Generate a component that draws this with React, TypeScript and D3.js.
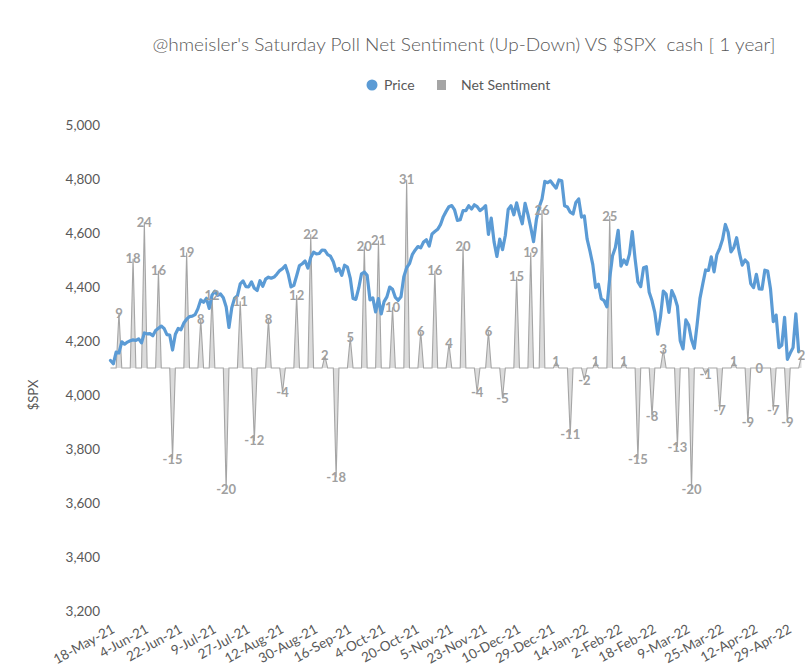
import { useEffect, useRef } from 'react'
import * as d3 from 'd3'

// ── Chart data ──────────────────────────────────────────────────────────────
const TITLE = "@hmeisler's Saturday Poll Net Sentiment (Up-Down) VS $SPX  cash [ 1 year]"

// trading calendar (NYSE sessions) covered by the chart
const FIRST_DAY = '2021-05-18'
const LAST_DAY = '2022-05-06'
const MARKET_HOLIDAYS = [
  '2021-05-31', '2021-07-05', '2021-09-06', '2021-11-25',
  '2021-12-24', '2022-01-17', '2022-02-21', '2022-04-15',
]

// $SPX daily close, one value per session
const SPX_CLOSE = [
  // May-21
  4127.8, 4115.7, 4159.1, 4155.9, 4197.1, 4188.1, 4196.0, 4200.9, 4204.1,
  // Jun-21
  4202.0, 4208.1, 4192.9, 4229.9, 4226.5, 4227.3, 4219.6, 4239.2, 4247.4, 4255.2, 4246.6,
  4223.7, 4221.9, 4166.5, 4224.8, 4246.4, 4241.8, 4266.5, 4280.7, 4290.6, 4291.8, 4297.5,
  // Jul-21
  4319.9, 4352.3, 4343.5, 4358.1, 4320.8, 4369.6, 4384.6, 4369.2, 4374.3, 4360.0, 4327.2,
  4250.0, 4323.1, 4358.7, 4367.5, 4411.8, 4422.3, 4401.5, 4400.6, 4419.2, 4395.3,
  // Aug-21
  4387.2, 4423.2, 4402.7, 4429.1, 4436.5, 4432.4, 4436.8, 4447.7, 4460.8, 4468.0, 4479.7,
  4448.1, 4400.3, 4405.8, 4441.7, 4479.5, 4486.2, 4496.2, 4470.0, 4509.4, 4528.8, 4522.7,
  // Sep-21
  4524.1, 4537.0, 4535.4, 4520.0, 4514.1, 4493.3, 4458.6, 4468.7, 4443.1, 4480.7, 4473.8,
  4433.0, 4357.7, 4354.2, 4395.6, 4449.0, 4455.5, 4443.1, 4352.6, 4359.5, 4307.5,
  // Oct-21
  4357.0, 4300.5, 4345.7, 4363.6, 4399.8, 4391.3, 4361.2, 4350.7, 4363.8, 4438.3, 4471.4,
  4486.5, 4519.6, 4536.2, 4549.8, 4544.9, 4566.5, 4574.8, 4551.7, 4596.4, 4605.4,
  // Nov-21
  4613.7, 4630.7, 4660.6, 4680.1, 4697.5, 4701.7, 4685.3, 4646.7, 4649.3, 4682.9, 4682.8,
  4700.9, 4688.7, 4704.5, 4698.0, 4682.9, 4690.7, 4701.5, 4594.6, 4655.3, 4567.0,
  // Dec-21
  4513.0, 4577.1, 4538.4, 4591.7, 4686.8, 4701.2, 4667.5, 4712.0, 4669.0, 4634.1, 4709.9,
  4668.7, 4620.6, 4568.0, 4649.2, 4696.6, 4725.8, 4791.2, 4786.4, 4793.1, 4778.7, 4766.2,
  // Jan-22
  4796.6, 4793.5, 4700.6, 4696.1, 4677.0, 4670.3, 4713.1, 4726.4, 4659.0, 4662.9,
  4577.1, 4532.8, 4482.7, 4397.9, 4410.1, 4356.5, 4349.9, 4326.5, 4431.9, 4515.6,
  // Feb-22
  4546.5, 4610.0, 4477.4, 4500.5, 4483.9, 4521.5, 4605.0, 4504.1, 4418.6, 4401.7,
  4471.1, 4475.0, 4380.3, 4348.9, 4304.8, 4225.5, 4288.7, 4384.7, 4373.9,
  // Mar-22
  4306.3, 4386.5, 4363.5, 4328.9, 4201.1, 4170.7, 4277.9, 4259.5, 4204.3, 4173.1, 4262.5,
  4357.9, 4411.7, 4463.1, 4461.2, 4511.6, 4456.2, 4520.2, 4543.1, 4575.5, 4631.6, 4602.5, 4530.4,
  // Apr-22
  4545.9, 4582.6, 4525.1, 4481.2, 4500.2, 4488.3, 4412.5, 4397.5, 4446.6, 4392.6,
  4391.7, 4462.2, 4459.5, 4393.7, 4271.8, 4296.1, 4175.2, 4184.0, 4287.5, 4131.9,
  // May-22
  4155.4, 4175.5, 4300.2, 4160.0,
]

// Saturday poll, net % (up minus down), one value per week
const NET_SENTIMENT = [
  9, 18, 24, 16, -15, 19, 8, 12, -20, 11, -12, 8, -4, 12, 22, 2, -18,
  5, 20, 21, 10, 31, 6, 16, 4, 20, -4, 6, -5, 15, 19, 26, 1, -11,
  -2, 1, 25, 1, -15, -8, 3, -13, -20, -1, -7, 1, -9, 0, -7, -9, 2,
]

const PRICE_TICKS = [3200, 3400, 3600, 3800, 4000, 4200, 4400, 4600, 4800, 5000]
const LABEL_EVERY = 12

const WIDTH = 805
const HEIGHT = 672
const PLOT = { left: 110.5, right: 801.5, top: 125, bottom: 611 }

const PRICE_COLOR = '#5B9BD5'
const SENT_COLOR = '#A5A5A5'
const TEXT_COLOR = '#595959'
const FONT = 'Lato, "Open Sans", sans-serif'

const parseDay = d3.utcParse('%Y-%m-%d')
const isoDay = d3.utcFormat('%Y-%m-%d')
const tickDay = d3.utcFormat('%-d-%b-%y')

function tradingDays(): Date[] {
  const closed = new Set(MARKET_HOLIDAYS)
  const start = parseDay(FIRST_DAY) as Date
  const stop = d3.utcDay.offset(parseDay(LAST_DAY) as Date, 1)
  return d3.utcDay.range(start, stop)
    .filter((d) => d.getUTCDay() % 6 !== 0 && !closed.has(isoDay(d)))
}

export default function App() {
  const svgRef = useRef<SVGSVGElement | null>(null)

  useEffect(() => {
    if (!svgRef.current) return
    const days = tradingDays()

    // poll result sits on the last session of each week
    const weekEnds = days
      .map((d, i) => i)
      .filter((i) => i === days.length - 1 || days[i + 1].getUTCDay() < days[i].getUTCDay())
    const sentiment = days.map(() => 0)
    weekEnds.forEach((dayIdx, w) => { sentiment[dayIdx] = NET_SENTIMENT[w] ?? 0 })

    const x = d3.scaleLinear().domain([0, days.length - 1]).range([PLOT.left, PLOT.right])
    const yPrice = d3.scaleLinear().domain([3200, 5000]).range([PLOT.bottom, PLOT.top])
    const ySent = d3.scaleLinear().domain([-40, 40]).range([PLOT.bottom, PLOT.top])

    const svg = d3.select(svgRef.current)
    svg.selectAll('*').remove()
    svg.attr('width', WIDTH).attr('height', HEIGHT)
      .style('font-family', FONT)

    svg.append('rect').attr('width', WIDTH).attr('height', HEIGHT).attr('fill', '#fff')

    // ── Title & legend ────────────────────────────────────────────────────────
    svg.append('text')
      .attr('x', 464).attr('y', 51)
      .attr('text-anchor', 'middle')
      .attr('font-size', 18).attr('font-weight', 300).attr('fill', TEXT_COLOR)
      .attr('textLength', 623).attr('lengthAdjust', 'spacingAndGlyphs')
      .style('white-space', 'pre')
      .text(TITLE)

    const legend = svg.append('g').attr('transform', 'translate(0,85)')
    legend.append('circle').attr('cx', 372).attr('cy', 0).attr('r', 5.5).attr('fill', PRICE_COLOR)
    legend.append('text').attr('x', 384).attr('y', 0).attr('dy', '0.35em')
      .attr('font-size', 14).attr('fill', TEXT_COLOR).text('Price')
    legend.append('rect').attr('x', 437).attr('y', -5).attr('width', 9).attr('height', 10).attr('fill', SENT_COLOR)
    legend.append('text').attr('x', 461).attr('y', 0).attr('dy', '0.35em')
      .attr('font-size', 14).attr('fill', TEXT_COLOR).text('Net Sentiment')

    // ── Y axis ($SPX) ─────────────────────────────────────────────────────────
    svg.append('g')
      .selectAll('text').data(PRICE_TICKS).join('text')
      .attr('x', 100).attr('y', (d) => yPrice(d)).attr('dy', '0.35em')
      .attr('text-anchor', 'end').attr('font-size', 13.5).attr('fill', TEXT_COLOR)
      .text((d) => d3.format(',')(d))

    svg.append('text')
      .attr('transform', `translate(38,${(PLOT.top + PLOT.bottom) / 2 + 27}) rotate(-90)`)
      .attr('text-anchor', 'middle').attr('font-size', 13).attr('fill', TEXT_COLOR)
      .text('$SPX')

    // ── X axis labels (every 12 sessions) ─────────────────────────────────────
    const labelIdx = d3.range(0, days.length, LABEL_EVERY)
    svg.append('g')
      .selectAll('text').data(labelIdx).join('text')
      .attr('transform', (i) => `translate(${x(i) + 5},632) rotate(-29)`)
      .attr('text-anchor', 'end').attr('font-size', 13.5).attr('fill', TEXT_COLOR)
      .text((i) => tickDay(days[i]))

    // ── Net sentiment (area spikes) ───────────────────────────────────────────
    const area = d3.area<number>()
      .x((_, i) => x(i)).y0(ySent(0)).y1((d) => ySent(d))
    const edge = d3.line<number>()
      .x((_, i) => x(i)).y((d) => ySent(d))

    svg.append('path').datum(sentiment)
      .attr('d', area).attr('fill', '#DCDCDC')
    svg.append('path').datum(sentiment)
      .attr('d', edge).attr('fill', 'none')
      .attr('stroke', SENT_COLOR).attr('stroke-width', 1.1)

    // ── Price line ────────────────────────────────────────────────────────────
    const line = d3.line<number>()
      .x((_, i) => x(i)).y((d) => yPrice(d))
    svg.append('path').datum(SPX_CLOSE)
      .attr('d', line).attr('fill', 'none')
      .attr('stroke', PRICE_COLOR).attr('stroke-width', 3.2)
      .attr('stroke-linejoin', 'round').attr('stroke-linecap', 'round')

    // ── Sentiment data labels ─────────────────────────────────────────────────
    svg.append('g')
      .selectAll('text').data(weekEnds).join('text')
      .attr('x', (i) => x(i)).attr('y', (i) => ySent(sentiment[i])).attr('dy', '0.35em')
      .attr('text-anchor', 'middle')
      .attr('font-size', 13).attr('font-weight', 700).attr('fill', '#A0A0A0')
      .text((i) => String(sentiment[i]))
  }, [])

  return (
    <div style={{ position: 'absolute', left: 0, top: 0 }}>
      <svg ref={svgRef} style={{ display: 'block' }} />
    </div>
  )
}
